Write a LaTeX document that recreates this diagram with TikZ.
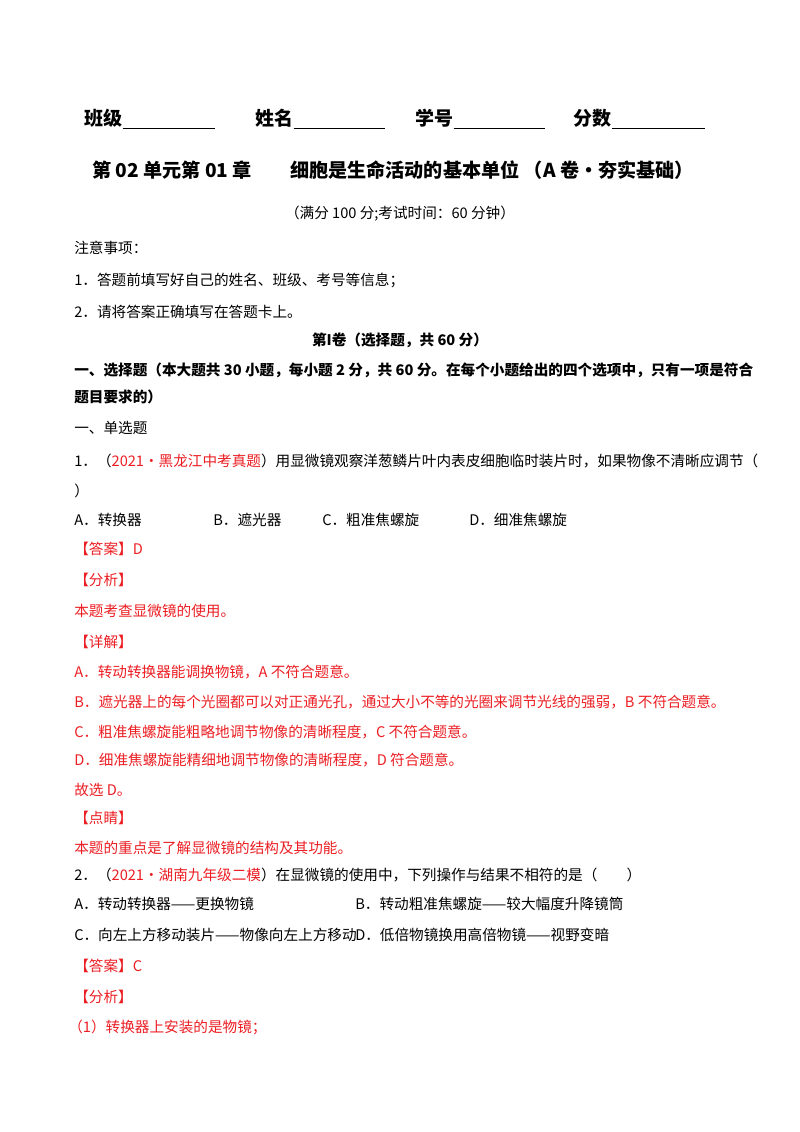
\documentclass[tikz,border=0pt]{standalone}
\usepackage{fontspec}
\setmainfont{Noto Sans CJK SC}
\usetikzlibrary{positioning}
\definecolor{ansred}{RGB}{235,30,35}
\tikzset{
  txt/.style={anchor=west, inner sep=0pt, font=\fontsize{10.4}{12}\selectfont},
  hd/.style={anchor=west, inner sep=0pt, font=\fontsize{13.5}{15}\selectfont\bfseries},
  red/.style={txt, text=ansred}
}
\begin{document}
\begin{tikzpicture}[x=0.025cm, y=-0.025cm]
    \useasboundingbox (0,0) rectangle (800,1132);

    % header
    \node[hd] (cls) at (84,118) {班级};
    \node[hd] (nam) at (255,118) {姓名};
    \node[hd] (num) at (415,118) {学号};
    \node[hd] (sco) at (573,118) {分数};
    \draw (cls.east |- 0,128) -- (215,128);
    \draw (nam.east |- 0,128) -- (385,128);
    \draw (num.east |- 0,128) -- (545,128);
    \draw (sco.east |- 0,128) -- (705,128);

    \node[hd, anchor=center, font=\fontsize{13.6}{16}\selectfont\bfseries] (title) at (393,170) {第 02 单元第 01 章\quad\quad 细胞是生命活动的基本单位 （A 卷·夯实基础）};
    \node[txt, anchor=center] (sub) at (400,214) {（满分 100 分;考试时间：60 分钟）};

    \node[txt] (note) at (74,248) {注意事项：};
    \node[txt] (n1) at (74,280) {1．答题前填写好自己的姓名、班级、考号等信息；};
    \node[txt] (n2) at (74,312) {2．请将答案正确填写在答题卡上。};
    \node[txt, anchor=center, font=\fontsize{10.4}{12}\selectfont\bfseries] (vol) at (400,340) {第I卷（选择题，共 60 分）};
    \node[txt, font=\fontsize{10.4}{12}\selectfont\bfseries] (sec) at (74,370) {一、选择题（本大题共 30 小题，每小题 2 分，共 60 分。在每个小题给出的四个选项中，只有一项是符合};
    \node[txt, font=\fontsize{10.4}{12}\selectfont\bfseries] (sec2) at (74,397) {题目要求的）};
    \node[txt] (single) at (74,428) {一、单选题};

    % question 1
    \node[txt] (q1) at (74,461) {1．（\textcolor{ansred}{2021·黑龙江中考真题}）用显微镜观察洋葱鳞片叶内表皮细胞临时装片时，如果物像不清晰应调节（};
    \node[txt] (q1b) at (74,491) {）};
    \node[txt] (q1a) at (74,520) {A．转换器};
    \node[txt] (q1bb) at (213,520) {B．遮光器};
    \node[txt] (q1c) at (322,520) {C．粗准焦螺旋};
    \node[txt] (q1d) at (469,520) {D．细准焦螺旋};
    \node[red] (ans1) at (74,549) {【答案】D};
    \node[red] (ana1) at (74,580) {【分析】};
    \node[red] (ana1t) at (74,611) {本题考查显微镜的使用。};
    \node[red] (det1) at (74,642) {【详解】};
    \node[red] (d1a) at (74,672) {A．转动转换器能调换物镜，A 不符合题意。};
    \node[red] (d1b) at (74,702) {B．遮光器上的每个光圈都可以对正通光孔，通过大小不等的光圈来调节光线的强弱，B 不符合题意。};
    \node[red] (d1c) at (74,732) {C．粗准焦螺旋能粗略地调节物像的清晰程度，C 不符合题意。};
    \node[red] (d1d) at (74,760) {D．细准焦螺旋能精细地调节物像的清晰程度，D 符合题意。};
    \node[red] (sel1) at (74,790) {故选 D。};
    \node[red] (tip1) at (74,818) {【点睛】};
    \node[red] (tip1t) at (74,848) {本题的重点是了解显微镜的结构及其功能。};

    % question 2
    \node[txt] (q2) at (74,875) {2．（\textcolor{ansred}{2021·湖南九年级二模}）在显微镜的使用中，下列操作与结果不相符的是（\qquad）};
    \node[txt] (q2a) at (74,904) {A．转动转换器——更换物镜};
    \node[txt] (q2b) at (355,904) {B．转动粗准焦螺旋——较大幅度升降镜筒};
    \node[txt] (q2c) at (74,935) {C．向左上方移动装片——物像向左上方移动};
    \node[txt] (q2d) at (355,935) {D．低倍物镜换用高倍物镜——视野变暗};
    \node[red] (ans2) at (74,966) {【答案】C};
    \node[red] (ana2) at (74,997) {【分析】};
    \node[red] (ana2t) at (68,1027) {（1）转换器上安装的是物镜；};
\end{tikzpicture}
\end{document}
